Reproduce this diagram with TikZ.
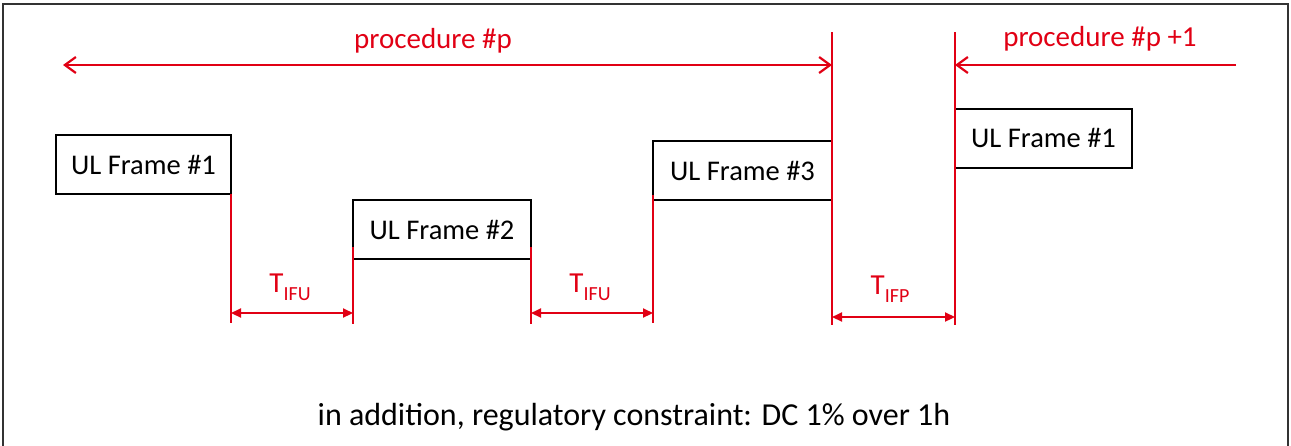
\documentclass[tikz,border=0pt]{standalone}
\usepackage{fontspec}
\setmainfont{Carlito}
\usetikzlibrary{arrows.meta}
\definecolor{myred}{RGB}{225,0,20}
\begin{document}
\begin{tikzpicture}[x=1pt,y=-1pt,
  ulbox/.style={draw=black, line width=2pt, minimum width=#1, minimum height=59pt, inner sep=0pt, font=\fontsize{28.5}{30}\selectfont},
  redline/.style={draw=myred, line width=2.2pt},
  dimarrow/.style={draw=myred, line width=2.2pt, {Triangle[length=10pt,width=9pt]}-{Triangle[length=10pt,width=9pt]}},
  procarrow/.style={draw=myred, line width=2.2pt},
  redtext/.style={text=myred, font=\fontsize{29}{31}\selectfont, inner sep=0pt, anchor=base},
  subtext/.style={text=myred, font=\fontsize{29}{31}\selectfont, inner sep=0pt, anchor=base}
]
\useasboundingbox (0,0) rectangle (1291,445);
\begin{scope}
\clip (0,0) rectangle (1291,445);
\draw[line width=1.5pt, draw=black!80] (3,4) rectangle (1288,470);
\end{scope}

% frames
\node[ulbox=175pt] (f1) at (143.5,164.5) {UL Frame \#1};
\node[ulbox=178pt] (f2) at (442,229.5) {UL Frame \#2};
\node[ulbox=179pt] (f3) at (742.5,170.5) {UL Frame \#3};
\node[ulbox=177pt] (g1) at (1043.5,138) {UL Frame \#1};

% vertical markers
\coordinate (a1) at (231,194);  \coordinate (a2) at (231,323);
\coordinate (b1) at (353,247);  \coordinate (b2) at (353,324);
\coordinate (c1) at (531,247);  \coordinate (c2) at (531,324);
\coordinate (d1) at (653,195);  \coordinate (d2) at (653,323);
\coordinate (e1) at (832,32);   \coordinate (e2) at (832,325);
\coordinate (h1) at (955,32);   \coordinate (h2) at (955,325);
\draw[redline] (a1) -- (a2);
\draw[redline] (b1) -- (b2);
\draw[redline] (c1) -- (c2);
\draw[redline] (d1) -- (d2);
\draw[redline] (e1) -- (e2);
\draw[redline] (h1) -- (h2);

% dimension arrows
\coordinate (ta) at (231,313); \coordinate (tb) at (353,313);
\coordinate (tc) at (531,313); \coordinate (td) at (653,313);
\coordinate (te) at (832,317); \coordinate (th) at (955,317);
\draw[dimarrow] (ta) -- (tb);
\draw[dimarrow] (tc) -- (td);
\draw[dimarrow] (te) -- (th);

\node[subtext] (l1) at (290,292) {T\raisebox{-0.28em}{\fontsize{20}{20}\selectfont IFU}};
\node[subtext] (l2) at (590,292) {T\raisebox{-0.28em}{\fontsize{20}{20}\selectfont IFU}};
\node[subtext] (l3) at (890,294) {T\raisebox{-0.28em}{\fontsize{20}{20}\selectfont IFP}};

% procedure arrows
\coordinate (p0) at (63,65); \coordinate (p1) at (832,65);
\coordinate (q0) at (1236,65); \coordinate (q1) at (955,65);
\draw[procarrow, {Straight Barb[length=11pt,width=16pt]}-{Straight Barb[length=11pt,width=16pt]}] (p0) -- (p1);
\draw[procarrow, -{Straight Barb[length=11pt,width=16pt]}] (q0) -- (q1);
\node[redtext] (pt) at (433,48) {procedure \#p};
\node[redtext] (qt) at (1100,46) {procedure \#p +1};

\node[inner sep=0pt, anchor=base, font=\fontsize{32}{34}\selectfont] (note) at (634,425) {in addition, regulatory constraint: DC 1\% over 1h};
\end{tikzpicture}
\end{document}
